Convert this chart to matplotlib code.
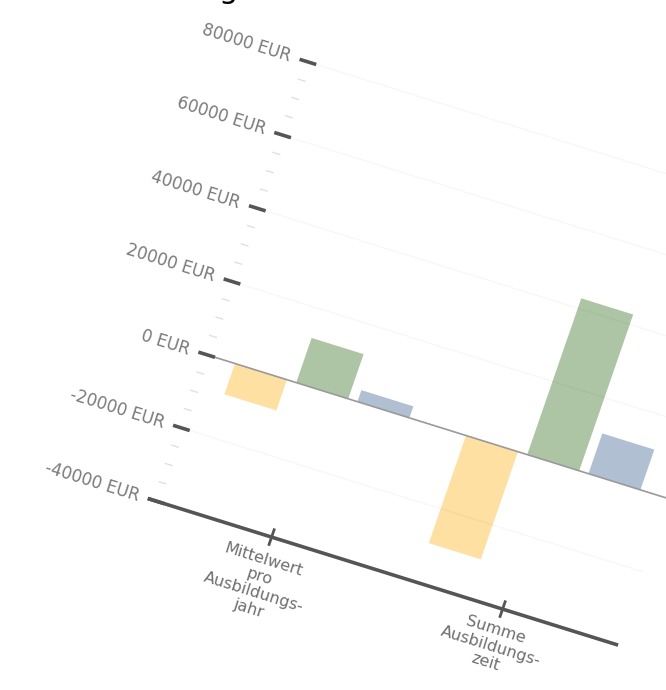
import numpy as np
import matplotlib
matplotlib.use("Agg")
import matplotlib.pyplot as plt
from matplotlib.transforms import Affine2D

# ---- data ----
categories = ["Mittelwert\npro\nAusbildungs-\njahr", "Summe\nAusbildungs-\nzeit"]
orange_vals = [-8400, -29400]
green_vals = [12200, 42700]
blue_vals = [3150, 11000]
yticks = [-40000, -20000, 0, 20000, 40000, 60000, 80000]
ytick_labels = [f"{v} EUR" for v in yticks]
minor_ticks = [v for v in range(-40000, 80001, 5000) if v % 20000 != 0]

colors = ["#fee0a3", "#adc5a5", "#b1bfd2"]

W, H = 666, 690
fig = plt.figure(figsize=(W / 100, H / 100), dpi=100)
ax = fig.add_axes([0, 0, 1, 1])
ax.set_xlim(0, W)
ax.set_ylim(H, 0)
ax.axis("off")

# tilted chart coordinate system: (category, EUR) -> pixel
ex = (231.0, 72.0)          # per category unit
ey = (25.3 / 20000, -73.2 / 20000)  # per EUR
origin = (206.7, 354.7)
A = Affine2D(np.array([[ex[0], ey[0], origin[0]],
                       [ex[1], ey[1], origin[1]],
                       [0, 0, 1]]))
T = A + ax.transData
rot = -np.degrees(np.arctan2(ex[1], ex[0]))

ymin, ymax = yticks[0], yticks[-1]
ncat = len(categories)
centers = np.arange(ncat) + 0.5
bw, pitch = 0.225, 0.265

# gridlines (very faint)
for v in yticks:
    if v in (0, ymin):
        continue
    ax.plot([0, ncat], [v, v], transform=T, color="black", alpha=0.03,
            lw=1.0, zorder=3, solid_capstyle="butt")

# bars
for i, (vals, c) in enumerate(zip([orange_vals, green_vals, blue_vals], colors)):
    ax.bar(centers + (i - 1) * pitch, vals, width=bw, color=c,
           transform=T, zorder=2, linewidth=0)

# zero line
ax.plot([0, ncat], [0, 0], transform=T, color="#9a9a9a", lw=1.2, zorder=4)

# x axis line at bottom
ax.plot([-0.036, ncat], [ymin, ymin], transform=T, color="#555555", lw=2.6,
        zorder=5, solid_capstyle="butt")
for cx in centers:
    ax.plot([cx, cx], [ymin - 2000, ymin + 2000], transform=T,
            color="#555555", lw=2.0, zorder=5)

# y axis ticks
for v in yticks:
    ax.plot([-0.036, 0.036], [v, v], transform=T, color="#555555", lw=2.6,
            zorder=5, solid_capstyle="butt")
for v in minor_ticks:
    ax.plot([-0.014, 0.014], [v, v], transform=T, color="#e0e0e0", lw=1.0,
            zorder=1)

# y tick labels
for v, lab in zip(yticks, ytick_labels):
    ax.annotate(lab, xy=(0, v), xycoords=T, xytext=(-17.5, 5.0),
                textcoords="offset pixels", ha="right", va="center",
                rotation=rot, rotation_mode="anchor", fontsize=12,
                color="#7a7a7a", family="DejaVu Sans")

# category labels
for cx, lab, off in zip(centers, categories, [(-5.5, -16.0), (-5.0, -13.5)]):
    ax.annotate(lab, xy=(cx, ymin), xycoords=T, xytext=off,
                textcoords="offset pixels", ha="center", va="top",
                rotation=rot, rotation_mode="anchor", fontsize=11.5,
                color="#6e6e6e", family="DejaVu Sans", linespacing=1.15,
                multialignment="center")

# partially visible title descender at the top
fig.text(228.5 / W, 1 + 2.4 / H, "g", fontsize=22, ha="center",
         va="baseline", color="black")

fig.savefig("out.png", dpi=100)
